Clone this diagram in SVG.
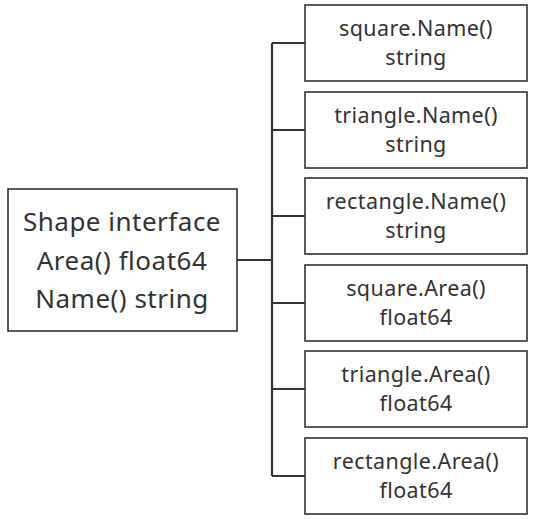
<svg xmlns="http://www.w3.org/2000/svg" width="543" height="520" viewBox="0 0 543 520">
<style>
.box{fill:#fff;stroke:#333;stroke-width:1.6}
.t{font-family:"Noto Sans","DejaVu Sans",sans-serif;fill:#333;text-anchor:middle}
.s{font-size:21.5px;letter-spacing:0.4px}
.l{font-size:26px;letter-spacing:0.5px}
.c{fill:none;stroke:#333;stroke-width:2.2}
</style>
<rect width="543" height="520" fill="#fff"/>
<g id="connectors">
<path class="c" d="M237 260 H272 M272 43 V476 M272 43 H305 M272 130 H305 M272 216 H305 M272 303 H305 M272 389 H305 M272 476 H305"/>
</g>
<g id="shape">
<rect class="box" x="8" y="189" width="229" height="142"/>
<text class="t l" x="122" y="231">Shape interface</text>
<text class="t l" x="122" y="270">Area() float64</text>
<text class="t l" x="122" y="308">Name() string</text>
</g>
<g id="square-name">
<rect class="box" x="305" y="5" width="222" height="76"/>
<text class="t s" x="416" y="36">square.Name()</text>
<text class="t s" x="416" y="65">string</text>
</g>
<g id="triangle-name">
<rect class="box" x="305" y="92" width="222" height="76"/>
<text class="t s" x="416" y="123">triangle.Name()</text>
<text class="t s" x="416" y="152">string</text>
</g>
<g id="rectangle-name">
<rect class="box" x="305" y="178" width="222" height="76"/>
<text class="t s" x="416" y="209">rectangle.Name()</text>
<text class="t s" x="416" y="238">string</text>
</g>
<g id="square-area">
<rect class="box" x="305" y="265" width="222" height="76"/>
<text class="t s" x="416" y="296">square.Area()</text>
<text class="t s" x="416" y="325">float64</text>
</g>
<g id="triangle-area">
<rect class="box" x="305" y="351" width="222" height="76"/>
<text class="t s" x="416" y="382">triangle.Area()</text>
<text class="t s" x="416" y="411">float64</text>
</g>
<g id="rectangle-area">
<rect class="box" x="305" y="438" width="222" height="76"/>
<text class="t s" x="416" y="469">rectangle.Area()</text>
<text class="t s" x="416" y="498">float64</text>
</g>
</svg>
